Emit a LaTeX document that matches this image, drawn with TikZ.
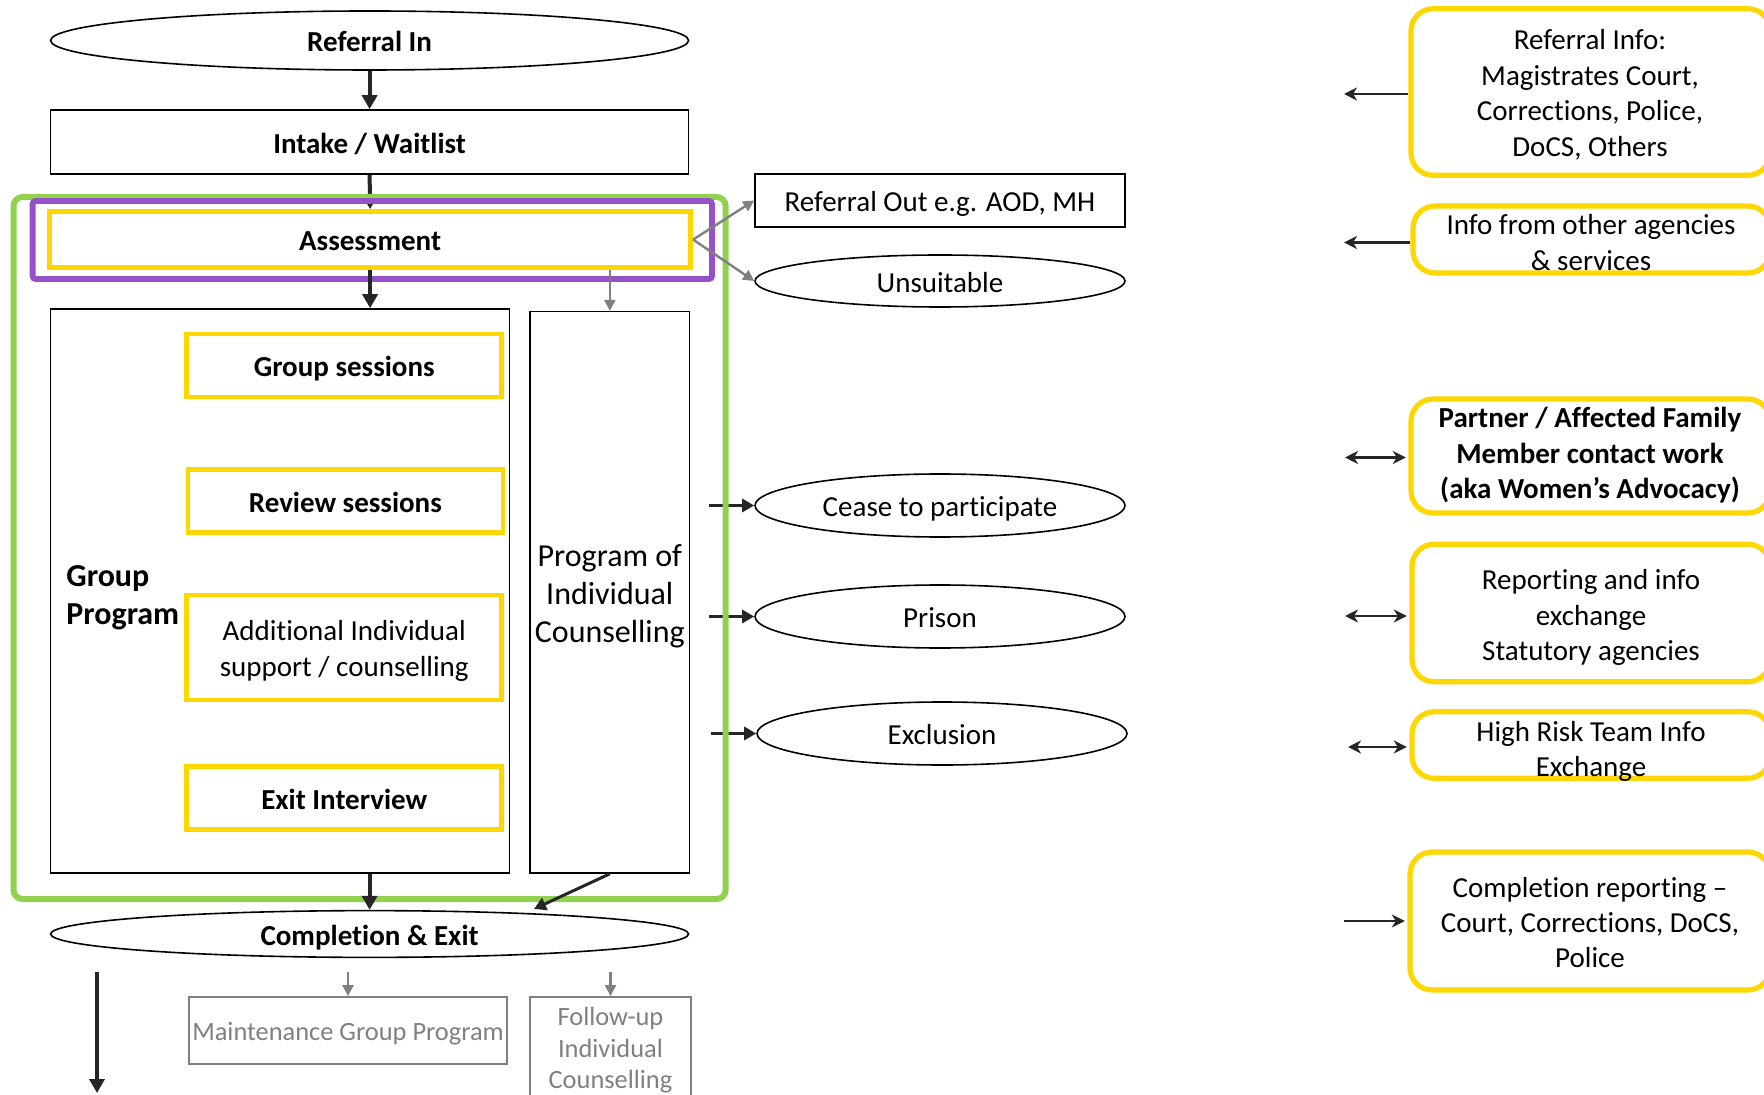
\documentclass[tikz,border=0pt]{standalone}
\usepackage{fontspec}
\setmainfont{Carlito}[Ligatures={NoCommon}]
\usetikzlibrary{shapes.geometric,arrows.meta}
\definecolor{yel}{RGB}{255,215,0}
\definecolor{grn}{RGB}{146,208,80}
\definecolor{pur}{RGB}{150,80,200}
\definecolor{dk}{RGB}{38,38,38}
\definecolor{gry}{RGB}{128,128,128}
\newcommand\Ts{\rule[-0.19em]{0pt}{1.14em}}
\begin{document}
\begin{tikzpicture}[x=0.5pt,y=-0.5pt,
  base/.style={font=\fontsize{14.5}{17.7}\selectfont, inner sep=0pt, align=center},
  bf/.style={font=\fontsize{14.5}{17.7}\selectfont\bfseries},
  oval/.style={base, ellipse, draw=black, line width=0.8pt},
  box/.style={base, rectangle, draw=black, line width=0.8pt},
  ybox/.style={base, rectangle, draw=yel, line width=2.4pt},
  rbox/.style={rectangle, rounded corners=11pt, draw=yel, line width=2.6pt, inner sep=0pt},
  gbox/.style={base, rectangle, draw=gry, line width=0.9pt, text=gry, font=\fontsize{13.2}{15.8}\selectfont},
  main/.style={draw=dk, line width=2pt, -{Triangle[length=7pt,width=7.5pt]}},
  side/.style={draw=dk, line width=1.5pt, -{Triangle[length=6pt,width=6.5pt]}},
  garr/.style={draw=gry, line width=1.2pt, -{Triangle[length=5.5pt,width=5.5pt]}},
  rarr/.style={draw=dk, line width=1.1pt, -{Stealth[length=6.5pt,width=6.5pt,inset=2pt]}},
  darr/.style={draw=dk, line width=1.1pt, {Stealth[length=6.5pt,width=6.5pt,inset=2pt]}-{Stealth[length=6.5pt,width=6.5pt,inset=2pt]}},
]
\useasboundingbox (0,0) rectangle (1764,1095);
\fill[white] (0,0) rectangle (1764,1095);

% left column
\node[oval, bf, minimum width=319pt, minimum height=29.5pt] (refin) at (369.6,40.5) {\Ts Referral In};
\node[box, bf, minimum width=319pt, minimum height=32pt] (intake) at (369.6,142) {\Ts Intake / Waitlist};
\node[ybox, bf, minimum width=320.6pt, minimum height=28pt] (assess) at (370.1,239.6) {\Ts Assessment};
\node[box, minimum width=229.5pt, minimum height=282pt] (gp) at (280.1,591) {};
\node[base, anchor=west, align=left, font=\fontsize{16}{19.1}\selectfont\bfseries] (gptext) at (66,593) {\Ts Group\\\Ts Program};
\node[box, font=\fontsize{16}{19.1}\selectfont, minimum width=79.8pt, minimum height=280.7pt] (poic) at (609.8,592.3) {\Ts Program of\\Individual\\\Ts Counselling};
\node[ybox, bf, minimum width=157.5pt, minimum height=31.5pt] (gs) at (344.25,365.5) {\Ts Group sessions};
\node[ybox, bf, minimum width=157.5pt, minimum height=31.5pt] (rs) at (345.4,501) {\Ts Review sessions};
\node[ybox, font=\fontsize{14.5}{18}\selectfont, minimum width=157.5pt, minimum height=52.5pt] (ais) at (344.25,647.5) {\Ts Additional Individual\\\Ts support / counselling};
\node[ybox, bf, minimum width=157.5pt, minimum height=31.5pt] (exit) at (344.25,798) {\Ts Exit Interview};
\node[oval, bf, minimum width=319pt, minimum height=20.75pt] (compl) at (369.6,934) {\Ts Completion \& Exit};
\node[gbox, minimum width=159pt, minimum height=33.5pt] (maint) at (348,1030.5) {\Ts Maintenance Group Program};
\node[gbox, minimum width=80.5pt, minimum height=50pt] (follow) at (610.5,1047) {\Ts Follow-up\\Individual\\\Ts Counselling};

% middle column
\node[box, minimum width=185pt, minimum height=26.5pt] (refout) at (940,200.5) {\Ts Referral Out e.g. AOD, MH};
\node[oval, minimum width=185pt, minimum height=26pt] (unsuit) at (940,281) {\Ts Unsuitable};
\node[oval, minimum width=185pt, minimum height=31.5pt] (cease) at (940,505.5) {\Ts Cease to participate};
\node[oval, minimum width=185pt, minimum height=31.5pt] (prison) at (940,616.5) {\Ts Prison};
\node[oval, minimum width=185pt, minimum height=31.5pt] (excl) at (942,733.5) {\Ts Exclusion};

% exit arrows (under green frame)
\coordinate (c1) at (709,505.5);
\coordinate (c2) at (709,616.5);
\coordinate (c3) at (711,733.5);
\draw[side] (c1) -- (cease.west);
\draw[side] (c2) -- (prison.west);
\draw[side] (c3) -- (excl.west);
\draw[main] (refin.south) -- (intake.north);
\draw[main] (intake.south) -- (assess.north);

% frames
\draw[grn, line width=3pt, rounded corners=4.5pt] (13.5,197) rectangle (725.6,899);
\draw[pur, line width=2.9pt, rounded corners=1.5pt] (32.6,201) rectangle (712,279);

% other arrows
\draw[main] (assess.south) -- (assess.south |- gp.north);
\draw[garr] (poic.north |- assess.south) -- (poic.north);
\draw[garr] (assess.east) -- (refout.west);
\draw[garr] (assess.east) -- (unsuit.west);
\draw[main] (compl.north |- gp.south) -- (compl.north);
\coordinate (pe) at (534,909);
\draw[side] (poic.south) -- (pe);
\coordinate (ls) at (97,972);
\coordinate (le) at (97,1093);
\draw[main] (ls) -- (le);
\coordinate (g1) at (348,972);
\coordinate (g2) at (610.5,972);
\draw[garr] (g1) -- (maint.north);
\draw[garr] (g2) -- (follow.north);

% right column
\node[rbox, minimum width=179.5pt, minimum height=83.25pt] (ri) at (1590.5,92) {};
\node[base] (ritx) at (1590,92) {\Ts Referral Info:\\Magistrates Court,\\Corrections, Police,\\\Ts DoCS, Others};
\node[rbox, minimum width=178.5pt, minimum height=33.5pt] (info) at (1591.5,239.5) {};
\node[base] (infotx) at (1591,241.5) {\Ts Info from other agencies\\\Ts\& services};
\node[rbox, minimum width=179.5pt, minimum height=57pt] (partner) at (1590.5,456) {};
\node[base, bf] (partnertx) at (1590,452) {\Ts Partner / Affected Family\\Member contact work\\\Ts (aka Women’s Advocacy)};
\node[rbox, minimum width=179pt, minimum height=68.75pt] (report) at (1591,613) {};
\node[base] (reporttx) at (1591,614) {\Ts Reporting and info\\exchange\\\Ts Statutory agencies};
\node[rbox, minimum width=179pt, minimum height=33.25pt] (hrisk) at (1591,745) {};
\node[base] (hrisktx) at (1591,748) {\Ts High Risk Team Info\\\Ts Exchange};
\node[rbox, minimum width=180pt, minimum height=69pt] (crep) at (1590,921) {};
\node[base] (creptx) at (1590,921.5) {\Ts Completion reporting –\\Court, Corrections, DoCS,\\\Ts Police};

\coordinate (a1) at (1344,94);
\coordinate (a2) at (1344,242.5);
\coordinate (a3) at (1345,457.5);
\coordinate (a4) at (1345,616);
\coordinate (a5) at (1348,747);
\coordinate (a6) at (1344,921);
\draw[rarr] (a1 -| ri.west) -- (a1);
\draw[rarr] (a2 -| info.west) -- (a2);
\draw[darr, shorten >=1.3pt] (a3) -- (a3 -| partner.west);
\draw[darr, shorten >=1.3pt] (a4) -- (a4 -| report.west);
\draw[darr, shorten >=1.3pt] (a5) -- (a5 -| hrisk.west);
\draw[rarr, shorten >=1.3pt] (a6) -- (crep.west);
\end{tikzpicture}
\end{document}
